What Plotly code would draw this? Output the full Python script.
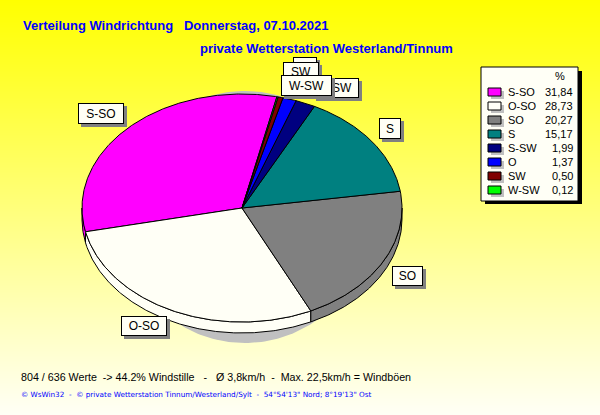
import numpy as np
import plotly.graph_objects as go

# --- data ---
categories = ["S-SO", "O-SO", "SO", "S", "S-SW", "O", "SW", "W-SW"]
values = [31.84, 28.73, 20.27, 15.17, 1.99, 1.37, 0.50, 0.12]
value_labels = ["31,84", "28,73", "20,27", "15,17", "1,99", "1,37", "0,50", "0,12"]
colors = ["#FF00FF", "#FFFFF6", "#808080", "#008080", "#000080", "#0000FF", "#800000", "#00FF00"]

title_1 = "Verteilung Windrichtung\u00a0\u00a0\u00a0Donnerstag, 07.10.2021"
title_2 = "private Wetterstation Westerland/Tinnum"
footer_1 = "804 / 636 Werte\u00a0 -> 44.2% Windstille\u00a0\u00a0 -\u00a0\u00a0 Ø 3,8km/h\u00a0 -\u00a0 Max. 22,5km/h = Windböen"
footer_2 = "© WsWin32\u00a0 -\u00a0 © private Wetterstation Tinnum/Westerland/Sylt\u00a0 -\u00a0 54°54'13\" Nord; 8°19'13\" Ost"

# --- geometry of the tilted pie ---
CX, CY, RX, RY, DEPTH = 242, 208, 160, 114, 11
START_DEG = 77.4
INK = "#000000"
IVORY = "#FFFFF6"
BLUE = "#0000FF"

# label boxes, bottom of the stack first: left, top, width, height
label_boxes = {
    "S-SO": (78, 103, 44, 19),
    "O-SO": (121, 316, 44, 18),
    "SO": (392, 266, 29, 18),
    "S": (379, 118, 20, 19),
    "S-SW": (313, 78, 44, 18),
    "O": (293, 57, 22, 18),
    "SW": (283, 62, 34, 18),
    "W-SW": (281, 75, 49, 19),
}

fig = go.Figure()

# page background: vertical yellow fade
rows = np.arange(0, 416)
fig.add_trace(go.Heatmap(
    x=[0, 600], y=rows, z=np.column_stack([rows, rows]),
    colorscale=[[0, "#FFFF00"], [1, "#FFFFF6"]], showscale=False, hoverinfo="skip",
))


def arc(t0, t1, dy=0.0):
    n = max(2, int(abs(t1 - t0) * 2) + 2)
    t = np.radians(np.linspace(t0, t1, n))
    return CX + RX * np.cos(t), CY + dy - RY * np.sin(t)


# circular drop shadow behind the pie
theta = np.radians(np.linspace(0, 360, 241))
fig.add_trace(go.Scatter(
    x=245 + 125 * np.cos(theta), y=217 + 126 * np.sin(theta), mode="lines",
    line=dict(width=0), fill="toself", fillcolor="#C0C0C0", hoverinfo="skip",
))

edges = START_DEG + np.concatenate([[0], np.cumsum(values)]) * 360 / sum(values)

# side wall (only the front half of the rim shows)
for i, name in enumerate(categories):
    for lo, hi in ((180, 360), (540, 720)):
        a, b = max(edges[i], lo), min(edges[i + 1], hi)
        if a >= b:
            continue
        xt, yt = arc(a, b)
        xb, yb = arc(b, a, DEPTH)
        fig.add_trace(go.Scatter(
            x=np.concatenate([xt, xb, xt[:1]]), y=np.concatenate([yt, yb, yt[:1]]),
            mode="lines", line=dict(color=INK, width=1), fill="toself",
            fillcolor=colors[i], name=name, hoverinfo="skip",
        ))

# top face
for i, name in enumerate(categories):
    xa, ya = arc(edges[i], edges[i + 1])
    fig.add_trace(go.Scatter(
        x=np.concatenate([[CX], xa, [CX]]), y=np.concatenate([[CY], ya, [CY]]),
        mode="lines", line=dict(color=INK, width=1), fill="toself",
        fillcolor=colors[i], name=name, hoverinfo="name",
    ))

annotations = []
shapes = []


def text(x, y, s, size=11, color=INK, anchor="left", family="Liberation Sans"):
    shift = {"left": -2, "right": 2, "center": 0}[anchor]
    annotations.append(dict(
        x=x + shift, y=y, xref="x", yref="y", text=s, showarrow=False, xanchor=anchor, yanchor="middle",
        font=dict(family=family, size=size, color=color),
    ))


def box(x, y, w, h, bg, border=None, s=" "):
    annotations.append(dict(
        x=x, y=y, xref="x", yref="y", text=s, showarrow=False, xanchor="left", yanchor="top",
        width=w, height=h, align="center", valign="middle", bgcolor=bg,
        bordercolor=border or bg, borderwidth=1, borderpad=0,
        font=dict(family="Liberation Sans", size=12, color=INK),
    ))


# titles and footers
text(23, 25, "<b>%s</b>" % title_1, size=13, color=BLUE)
text(200, 48, "<b>%s</b>" % title_2, size=13, color=BLUE)
text(21, 377, footer_1, size=10.7)
text(21, 394, footer_2, size=7.25, color=BLUE, family="DejaVu Sans")

# slice labels, stacked as in the reference
for name in ["S-SO", "O-SO", "SO", "S", "S-SW", "O", "SW", "W-SW"]:
    x, y, w, h = label_boxes[name]
    box(x + 3, y + 3, w, h, "#808080")
    box(x, y, w, h, IVORY, INK, name)

# legend panel
LX0, LY0, LX1, LY1 = 481, 67, 578, 201
shapes.append(dict(type="rect", x0=LX0 + 4, y0=LY0 + 4, x1=LX1 + 4, y1=LY1 + 3,
                   fillcolor=INK, line=dict(width=0)))
shapes.append(dict(type="rect", x0=LX0, y0=LY0, x1=LX1, y1=LY1,
                   fillcolor="#FFFFF6", line=dict(color=INK, width=1)))
text(560, 76, "%", anchor="center")
for i, name in enumerate(categories):
    yc = 92 + 14 * i
    shapes.append(dict(type="rect", x0=491, y0=yc - 1, x1=504, y1=yc + 7,
                       fillcolor="#C0C0C0", line=dict(width=0)))
    shapes.append(dict(type="rect", x0=488, y0=yc - 4, x1=501, y1=yc + 4,
                       fillcolor=colors[i], line=dict(color=INK, width=1)))
    text(508, yc, name)
    text(573, yc, value_labels[i], anchor="right")

fig.update_layout(
    width=600, height=415, margin=dict(l=0, r=0, t=0, b=0), autosize=False,
    paper_bgcolor="#FFFFF6", plot_bgcolor="#FFFFF6", showlegend=False,
    xaxis=dict(range=[0, 600], visible=False, fixedrange=True, domain=[0, 1]),
    yaxis=dict(range=[415, 0], visible=False, fixedrange=True, domain=[0, 1]),
    annotations=annotations, shapes=shapes,
)
fig.write_html(
    "out.html", config=dict(displayModeBar=False),
    post_script="document.body.style.margin='0';document.body.style.overflow='hidden';",
)
